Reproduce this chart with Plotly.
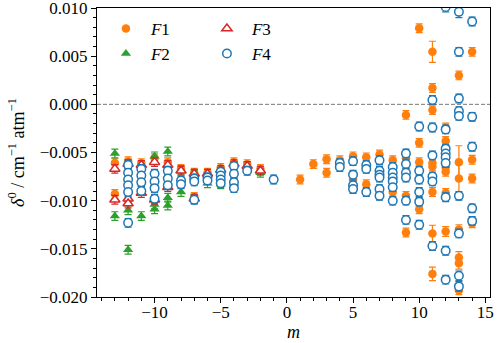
import plotly.graph_objects as go

# F1 : orange filled circles (small error bars)
f1_m = [-13, -13, -12, -12, -11, -11, -10, -10, -9, -9, -8, -8, -7, -7, -6, -6,
        -5, -5, -4, -4, -3, -2, 1, 2, 3, 3, 4, 5, 5, 6, 6, 7, 7, 8, 8,
        9, 9, 9, 9, 10, 10, 10, 10, 11, 11, 11, 11, 11,
        12, 12, 12, 12, 12, 13, 13, 14, 14, 14, 14]
f1_val = [-0.0061, -0.0093, -0.0059, -0.0099, -0.0061, -0.0090, -0.0056, -0.0086,
          -0.0060, -0.0076, -0.0067, -0.0080, -0.0071, -0.0096, -0.0071, -0.0078,
          -0.0066, -0.0076, -0.0060, -0.0080, -0.0062, -0.0067, -0.0078, -0.0062,
          -0.0057, -0.0071, -0.0058, -0.0054, -0.0078, -0.0055, -0.0083, -0.0052,
          -0.0092, -0.0058, -0.0091,
          -0.0011, -0.0056, -0.0095, -0.0133, 0.0079, -0.0040, -0.0060, -0.0109,
          0.0017, -0.0006, -0.0061, -0.00645, -0.0091,
          -0.0024, -0.0038, -0.00655, -0.0070, -0.0092, 0.0030, -0.0193,
          0.00545, -0.00575, -0.0077, -0.01235]
# F1 points with large error bars
f1_big_m = [11, 11, 11, 12, 13, 13, 13, 13, 13]
f1_big_val = [0.00545, -0.0134, -0.0176, -0.0132, -0.0060, -0.0077, -0.0130, -0.0159, -0.0165]
f1_big_err = [0.0011, 0.00085, 0.0007, 0.0005, 0.0017, 0.0015, 0.0005, 0.0006, 0.0006]

# F2 : green filled triangles
f2_m = [-13, -13, -12, -12, -12, -11, -11, -10, -10, -10, -9, -9, -9, -8, -8,
        -7, -7, -6, -5, -5, -4, -3, -2]
f2_val = [-0.0051, -0.0116, -0.0062, -0.0110, -0.0151, -0.0063, -0.0116,
          -0.0054, -0.0104, -0.0109, -0.0049, -0.0097, -0.0105, -0.0068, -0.0091,
          -0.0073, -0.0098, -0.0082, -0.0070, -0.0083, -0.0082, -0.0064, -0.0071]

# F3 : red open triangles
f3_m = [-13, -13, -12, -12, -12, -11, -11, -10, -10, -9, -9, -8, -7, -7, -6,
        -5, -4, -3, -2]
f3_val = [-0.0067, -0.0099, -0.0062, -0.0098, -0.0103, -0.0063, -0.0092,
          -0.0060, -0.0099, -0.0063, -0.0086, -0.0069, -0.0072, -0.0098, -0.0072,
          -0.0068, -0.0062, -0.0064, -0.0069]

# F4 : blue open circles
f4_m = [-12, -12, -12, -12, -12, -12, -11, -11, -11, -11, -10, -10, -10, -10,
        -9, -9, -9, -8, -8, -7, -7, -7, -6, -6, -5, -5, -5, -5, -4, -4, -4, -4,
        -3, -1, 4, 4, 5, 5, 5, 5, 6, 6, 6, 7, 7, 7, 7, 7, 7,
        8, 8, 8, 8, 8, 8, 9, 9, 9, 9, 9, 9, 10, 10, 10, 10, 10, 10,
        11, 11, 11, 11, 11, 11, 12, 12, 12, 12, 12, 12, 12, 12,
        13, 13, 13, 13, 13, 13, 14, 14, 14, 14, 14]
f4_val = [-0.0063, -0.0071, -0.0078, -0.0084, -0.0091, -0.0123,
          -0.0067, -0.0074, -0.0081, -0.0090, -0.0072, -0.0080, -0.0087, -0.0098,
          -0.0069, -0.0077, -0.0084, -0.0079, -0.0083, -0.0077, -0.0080, -0.0099,
          -0.0076, -0.0079, -0.0070, -0.0074, -0.0078, -0.0082,
          -0.0064, -0.0072, -0.0081, -0.0087, -0.0069, -0.0078,
          -0.0061, -0.0065, -0.0059, -0.0073, -0.0084, -0.0088,
          -0.0063, -0.0067, -0.0091, -0.0058, -0.0069, -0.0073, -0.0076, -0.0088, -0.0095,
          -0.0065, -0.0071, -0.0076, -0.0080, -0.0086, -0.0100,
          -0.0051, -0.0062, -0.0071, -0.0076, -0.0100, -0.0120,
          -0.0023, -0.0069, -0.0078, -0.0091, -0.0101, -0.0125,
          0.00045, -0.0024, -0.0053, -0.0075, -0.0080, -0.0147,
          -0.0026, -0.0046, -0.0051, -0.0055, -0.0061, -0.00965, -0.0152, -0.0182,
          0.00545, 0.0006, -0.0007, -0.0012, -0.0095, -0.0134,
          0.0086, -0.0013, -0.0044, -0.0108, -0.0121]
f4_big_m = [12, 13, 13, 13]
f4_big_val = [0.0101, 0.0096, -0.0178, -0.0189]
f4_big_err = [0.0005, 0.0006, 0.0005, 0.0005]

small_err = 0.00045

x_ticks = [-10, -5, 0, 5, 10, 15]
y_ticks = [-0.020, -0.015, -0.010, -0.005, 0.000, 0.005, 0.010]

orange = "#ff7f0e"
green = "#2ca02c"
red = "#d62728"
blue = "#1f77b4"

font = "Liberation Serif"

fig = go.Figure()

fig.add_trace(go.Scatter(
    x=f1_m + f1_big_m, y=f1_val + f1_big_val, mode="markers", name="<i>F</i>1",
    marker=dict(symbol="circle", size=8.5, color=orange),
    error_y=dict(type="data", array=[small_err] * len(f1_m) + f1_big_err,
                 color=orange, thickness=1.2, width=3.5),
    legend="legend"))

fig.add_trace(go.Scatter(
    x=f2_m, y=f2_val, mode="markers", name="<i>F</i>2",
    marker=dict(symbol="triangle-up", size=9, color=green),
    error_y=dict(type="constant", value=small_err, color=green, thickness=1.2, width=3.5),
    legend="legend"))

fig.add_trace(go.Scatter(
    x=f3_m, y=f3_val, mode="markers", name="<i>F</i>3",
    marker=dict(symbol="triangle-up", size=9, color="white",
                line=dict(color=red, width=1.5)),
    error_y=dict(type="constant", value=small_err, color=red, thickness=1.2, width=3.5),
    legend="legend2"))

fig.add_trace(go.Scatter(
    x=f4_m + f4_big_m, y=f4_val + f4_big_val, mode="markers", name="<i>F</i>4",
    marker=dict(symbol="circle", size=8.5, color="white",
                line=dict(color=blue, width=1.5)),
    error_y=dict(type="data", array=[small_err] * len(f4_m) + f4_big_err,
                 color=blue, thickness=1.2, width=3.5),
    legend="legend2"))

# dashed reference line at zero
fig.add_hline(y=0, line=dict(color="#777777", width=1, dash="4px,2px"), layer="below")

axis_common = dict(
    showline=True, linecolor="black", linewidth=1, mirror=True,
    ticks="outside", ticklen=5, tickwidth=1, tickcolor="black",
    showgrid=False, zeroline=False, automargin=False,
    ticklabeloverflow="allow",
    tickfont=dict(family=font, size=17, color="black"),
)

fig.update_xaxes(
    range=[-14.35, 15.35], tickvals=x_ticks, ticklabelstandoff=-5,
    minor=dict(ticks="outside", ticklen=3, tickwidth=0.8, tickcolor="black", dtick=1, showgrid=False),
    title=dict(text="<i>m</i>", font=dict(family=font, size=18, color="black"), standoff=1),
    **axis_common)

fig.update_yaxes(
    range=[-0.020, 0.010], tickvals=y_ticks, tickformat=".3f",
    minor=dict(ticks="outside", ticklen=3, tickwidth=0.8, tickcolor="black", dtick=0.001, showgrid=False),
    title=dict(text="<i>δ</i><sup>0</sup> / cm<sup>−1</sup> atm<sup>−1</sup>",
               font=dict(family=font, size=18, color="black"), standoff=10),
    **axis_common)

legend_common = dict(
    bgcolor="rgba(255,255,255,0)", borderwidth=0,
    font=dict(family=font, size=17, color="black"),
    xanchor="left", yanchor="top", tracegroupgap=0, itemwidth=40,
)

fig.update_layout(
    width=498, height=343,
    margin=dict(l=97, r=8, t=8, b=46),
    paper_bgcolor="white", plot_bgcolor="white",
    legend=dict(x=0.01, y=0.99, **legend_common),
    legend2=dict(x=0.267, y=0.99, **legend_common),
)

# drop the browser's default page margin so the figure sits at the window corner
fig.write_html("out.html", config={"displayModeBar": False},
               post_script="document.body.style.margin = '0';")
